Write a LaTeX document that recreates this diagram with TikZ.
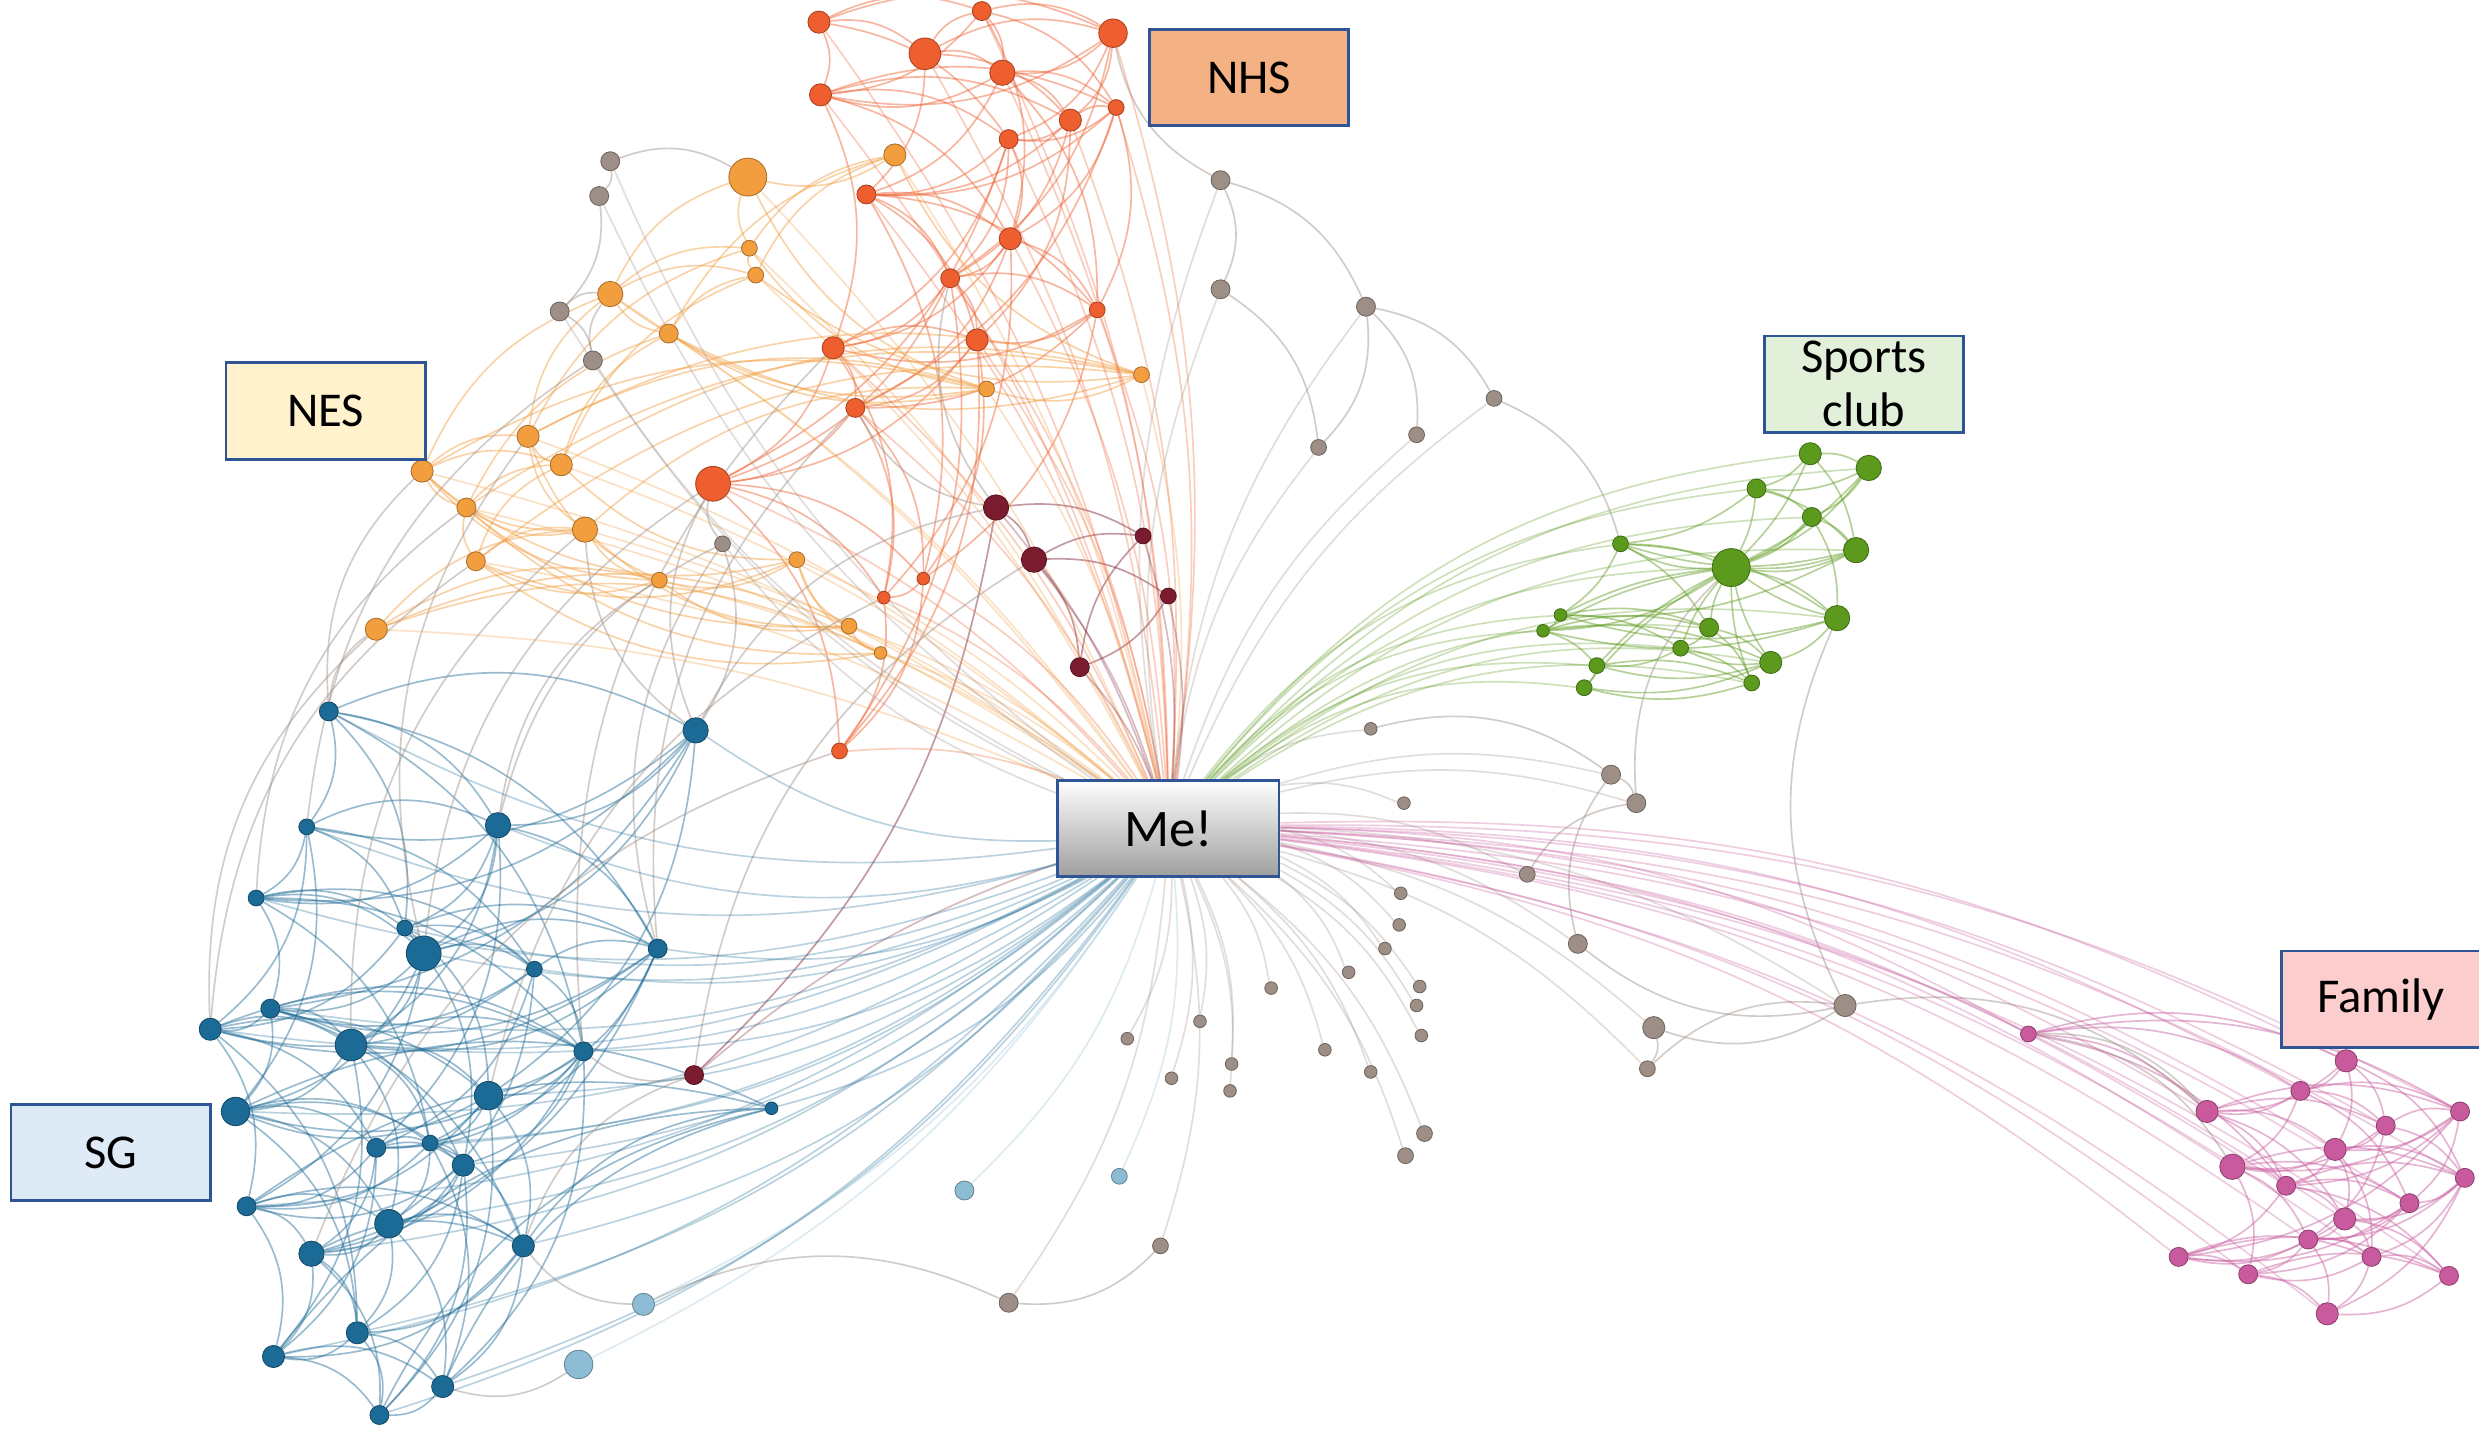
\documentclass[tikz,border=0pt]{standalone}
\usepackage{fontspec}
\setmainfont{Carlito}
\usetikzlibrary{backgrounds}

\definecolor{nhsc}{HTML}{EE5E2E}
\definecolor{nesc}{HTML}{F29D3E}
\definecolor{sgc}{HTML}{1C6A96}
\definecolor{sglt}{HTML}{8CBDD4}
\definecolor{spc}{HTML}{5B9A1C}
\definecolor{famc}{HTML}{C95A9E}
\definecolor{grc}{HTML}{9D8F86}
\definecolor{drc}{HTML}{7B1C2E}
\definecolor{tagline}{HTML}{2F5597}
\definecolor{nhsbox}{HTML}{F4B183}
\definecolor{nesbox}{HTML}{FFF2CC}
\definecolor{spbox}{HTML}{E2F0D9}
\definecolor{fambox}{HTML}{FCCDCD}
\definecolor{sgbox}{HTML}{DEEBF7}

\tikzset{
  dot/.style={circle,inner sep=0pt,fill=#1,draw=#1!70!black,line width=.3pt},
  tag/.style={draw=tagline,line width=1pt,minimum width=2.52cm,minimum height=1.22cm,
    inner sep=0pt,align=center,font=\fontsize{17.5}{19.5}\selectfont},
  link/.style={#1,line width=.6pt,opacity=.45},
  spoke/.style={#1,line width=.6pt,opacity=.3},
}

% node data: name/x/y/radius
\def\nhslist{1/518/14/7,2/585/34/10,3/621/7/6,4/704/21/9,5/634/46/8,6/519/60/7,7/677/76/7,8/706/68/5,9/638/88/6,10/548/123/6,11/639/151/7,12/601/176/6,13/694/196/5,14/527/220/7,15/618/215/7,16/541/258/6,17/451/306/11,18/584/366/4,19/559/378/4,20/531/475/5}
\def\neslist{1/473/112/12,2/566/98/7,3/474/157/5,4/478/174/5,5/386/186/8,6/423/211/6,7/624/246/5,8/722/237/5,9/334/276/7,10/355/294/7,11/267/298/7,12/295/321/6,13/370/335/8,14/301/355/6,15/417/367/5,16/504/354/5,17/537/396/5,18/557/413/4,19/238/398/7}
\def\grlist{1/386/102/6,2/379/124/6,3/354/197/6,4/375/228/6,5/772/114/6,6/772/183/6,7/864/194/6,8/945/252/5,9/896/275/5,10/834/283/5,11/457/344/5,12/867/461/4,13/1019/490/6,14/1035/508/6,15/888/508/4,16/966/553/5,17/886/565/4,18/885/585/4,19/876/600/4,20/898/624/4,21/853/615/4,22/804/625/4,23/896/636/4,24/759/646/4,25/713/657/4,26/899/655/4,27/838/664/4,28/779/673/4,29/741/682/4,30/778/690/4,31/867/678/4,32/901/717/5,33/889/731/5,34/998/597/6,35/1046/650/7,36/1042/676/5,37/1167/636/7,38/734/788/5,39/638/824/6}
\def\drlist{1/630/321/8,2/654/354/8,3/723/339/5,4/739/377/5,5/683/422/6,6/439/680/6}
\def\sglist{1/208/450/6,2/440/462/8,3/194/523/5,4/315/522/8,5/162/568/5,6/256/587/5,7/268/603/11,8/338/613/5,9/416/600/6,10/171/638/6,11/133/651/7,12/222/661/10,13/369/665/6,14/309/693/9,15/149/703/9,16/238/726/6,17/272/723/5,18/293/737/7,19/156/763/6,20/246/774/9,21/197/793/8,22/331/788/7,23/226/843/7,24/173/858/7,25/280/877/7,26/240/895/6,27/488/701/4}
\def\ltlist{1/610/753/6,2/708/744/5,3/407/825/7,4/366/863/9}
\def\splist{1/1145/287/7,2/1182/296/8,3/1111/309/6,4/1146/327/6,5/1174/348/8,6/1095/359/12,7/1025/344/5,8/1162/391/8,9/987/389/4,10/976/399/4,11/1081/397/6,12/1120/419/7,13/1063/410/5,14/1010/421/5,15/1108/432/5,16/1002/435/5}
\def\famlist{1/1283/654/5,2/1484/671/7,3/1455/690/6,4/1396/703/7,5/1509/712/6,6/1556/703/6,7/1477/727/7,8/1412/738/8,9/1446/750/6,10/1559/745/6,11/1524/761/6,12/1483/771/7,13/1460/784/6,14/1378/795/6,15/1500/795/6,16/1422/806/6,17/1549/807/6,18/1472/831/7}

\begin{document}
\begin{tikzpicture}[x=0.02cm,y=-0.02cm]
\useasboundingbox (0,0) rectangle (1568,911);

% people
\foreach \n/\x/\y/\r in \nhslist \node[dot=nhsc,minimum size=\r*0.4mm] (h\n) at (\x,\y) {};
\foreach \n/\x/\y/\r in \neslist \node[dot=nesc,minimum size=\r*0.4mm] (n\n) at (\x,\y) {};
\foreach \n/\x/\y/\r in \grlist \node[dot=grc,minimum size=\r*0.4mm] (g\n) at (\x,\y) {};
\foreach \n/\x/\y/\r in \drlist \node[dot=drc,minimum size=\r*0.4mm] (d\n) at (\x,\y) {};
\foreach \n/\x/\y/\r in \sglist \node[dot=sgc,minimum size=\r*0.4mm] (s\n) at (\x,\y) {};
\foreach \n/\x/\y/\r in \ltlist \node[dot=sglt,minimum size=\r*0.4mm] (l\n) at (\x,\y) {};
\foreach \n/\x/\y/\r in \splist \node[dot=spc,minimum size=\r*0.4mm] (p\n) at (\x,\y) {};
\foreach \n/\x/\y/\r in \famlist \node[dot=famc,minimum size=\r*0.4mm] (f\n) at (\x,\y) {};

% group labels
\node[tag,fill=nhsbox] (nhs) at (790,49) {NHS};
\node[tag,fill=nesbox] (nes) at (206,260) {NES};
\node[tag,fill=spbox] (sports) at (1179,243) {Sports\\club};
\node[tag,fill=fambox] (family) at (1506,632) {Family};
\node[tag,fill=sgbox] (sg) at (70,729) {SG};
\node[tag,minimum width=2.8cm,top color=white,bottom color=black!38,
  font=\fontsize{19}{21}\selectfont] (me) at (739,524) {Me!};

\begin{pgfonlayer}{background}
\fill[white] (0,0) rectangle (1568,911);
% ties inside each group
\foreach \i in {1,...,20} \foreach \k in {1,2,3,5,8} {
  \pgfmathtruncatemacro\j{\i+\k}
  \ifnum\j<21 \draw[link=nhsc] (h\i) to[bend left=22] (h\j); \fi}
\foreach \i in {1,...,19} \foreach \k in {1,2,4,6} {
  \pgfmathtruncatemacro\j{\i+\k}
  \ifnum\j<20 \draw[link=nesc] (n\i) to[bend right=22] (n\j); \fi}
\foreach \i in {1,...,27} \foreach \k in {1,2,3,5,8,12} {
  \pgfmathtruncatemacro\j{\i+\k}
  \ifnum\j<28 \draw[link=sgc] (s\i) to[bend left=25] (s\j); \fi}
\foreach \i in {1,...,16} \foreach \k in {1,2,4} {
  \pgfmathtruncatemacro\j{\i+\k}
  \ifnum\j<17 \draw[link=spc] (p\i) to[bend left=15] (p\j); \fi}
\foreach \i in {1,...,18} \foreach \k in {1,2,3,5,8} {
  \pgfmathtruncatemacro\j{\i+\k}
  \ifnum\j<19 \draw[link=famc] (f\i) to[bend left=20] (f\j); \fi}
\foreach \n in {1,2,3,4,5,7,8,9,10,11,12,13,14,15,16}
  \draw[link=spc] (p6) to[bend right=10] (p\n);
\foreach \a/\b in {1/2,2/3,2/4,2/5,1/3,4/5,5/3,1/6}
  \draw[link=drc] (d\a) to[bend left=18] (d\b);

% ties between groups
\foreach \a/\b in {s1/n19,s1/n11,s2/h17,s2/n13,s4/n15,s7/n9,s9/h16,s13/h14,s3/g4,
    s11/n19,s2/d1,s14/h19,s22/d6,s9/g11,s4/g11,d6/s13,d6/d2,d1/h12,d1/h16,
    g1/g2,g2/g3,g3/g4,g1/n1,g4/n5,g3/n5,g11/h17,g11/s2,l3/s22,l4/s25,l3/g39,
    g5/h4,g5/g6,g5/g7,g7/g9,g7/g10,g7/g8,g6/g10,g8/p7,g34/g13,g13/g14,
    g14/p6,g37/p8,g37/g34,g37/f4,g37/g35,g35/g36,g36/g37,g16/g14,g38/g39,
    f1/f4,f1/f8,g12/g13,s11/n14,s5/n12,s7/h17,s12/n13,s21/h20}
  \draw[link=grc] (\a) to[bend left=25] (\b);

% ties to me
\foreach \n in {1,...,20} \draw[spoke=nhsc] (me) to[bend right=12] (h\n);
\foreach \n in {1,...,19} \draw[spoke=nesc] (me) to[bend right=10] (n\n);
\foreach \n in {1,...,39} \draw[spoke=grc] (me) to[bend left=15] (g\n);
\foreach \n in {1,...,6} \draw[spoke=drc] (me) to[bend right=10] (d\n);
\foreach \n in {1,...,27} \draw[spoke=sgc] (me) to[bend left=18] (s\n);
\foreach \n in {1,...,4} \draw[spoke=sglt] (me) to[bend left=15] (l\n);
\foreach \n in {1,...,16} \draw[spoke=spc] (me) to[bend left=22] (p\n);
\foreach \n in {1,...,18} \draw[spoke=famc] (me) to[bend left=14] (f\n);
\end{pgfonlayer}
\end{tikzpicture}
\end{document}
